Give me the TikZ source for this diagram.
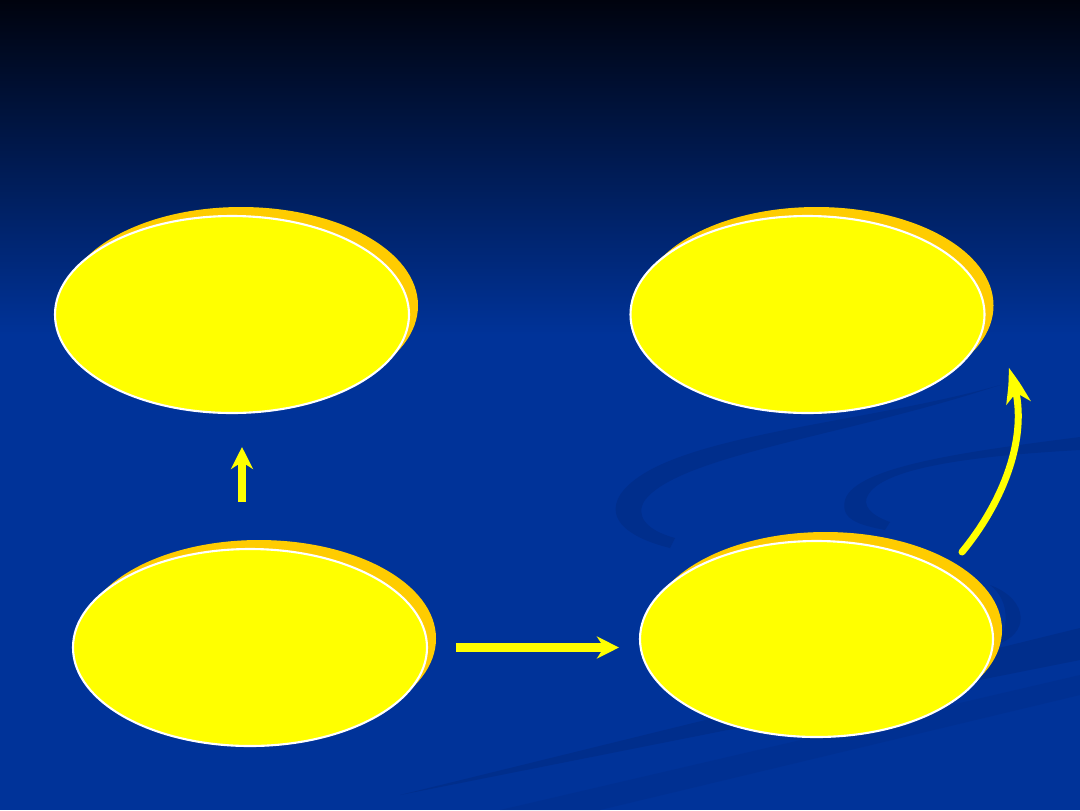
\documentclass[tikz,border=0pt]{standalone}
\usetikzlibrary{shapes.geometric,shadows,arrows.meta,bending}

\definecolor{bgblue}{HTML}{003399}
\definecolor{bgtop}{HTML}{00030E}
\definecolor{swirl}{HTML}{002E8C}
\definecolor{bubbleyellow}{HTML}{FFFF00}
\definecolor{shadoworange}{HTML}{FFCC00}

\begin{document}
\begin{tikzpicture}[
    bubble/.style={ellipse, draw=white, line width=0.6pt, fill=bubbleyellow, inner sep=0pt,
      minimum width=3.54cm, minimum height=1.97cm,
      drop shadow={shadow xshift=0.09cm, shadow yshift=0.09cm, fill=shadoworange, opacity=1}},
    flow/.style={draw=bubbleyellow, line width=0.08cm,
      -{Stealth[length=0.22cm, width=0.22cm, inset=0.07cm, fill=bubbleyellow]}}
  ]
      % background
      \useasboundingbox (0,0) rectangle (10.8,8.1);
      \fill[bgblue] (0,0) rectangle (10.8,8.1);
      \shade[top color=bgtop, bottom color=bgblue] (0,4.75) rectangle (10.8,8.1);

      % swirls
      \fill[swirl] (10.0,4.25) .. controls (8.6,3.85) and (6.6,3.75) .. (6.2,3.15)
        .. controls (6.05,2.9) and (6.3,2.72) .. (6.7,2.62) -- (6.75,2.72)
        .. controls (6.45,2.8) and (6.35,2.95) .. (6.45,3.1)
        .. controls (6.8,3.55) and (8.5,3.75) .. (10.0,4.25) -- cycle;
      \fill[swirl] (10.8,3.73) .. controls (9.8,3.6) and (8.55,3.45) .. (8.45,3.1)
        .. controls (8.4,2.9) and (8.6,2.85) .. (8.85,2.8) -- (8.9,2.88)
        .. controls (8.7,2.95) and (8.62,3.05) .. (8.68,3.15)
        .. controls (8.85,3.45) and (9.9,3.55) .. (10.8,3.6) -- cycle;
      \fill[swirl] (9.9,2.25) .. controls (10.3,2.1) and (10.3,1.75) .. (9.95,1.65)
        .. controls (10.1,1.8) and (10.1,2.1) .. (9.9,2.25) -- cycle;
      \fill[swirl] (4.0,0.15) -- (10.8,1.82) -- (10.8,1.5) -- cycle;
      \fill[swirl, opacity=0.5] (5.0,0) -- (10.8,1.35) -- (10.8,1.15) -- (6.0,0) -- cycle;

      % bubbles
      \draw (2.32,4.955) node[bubble] (upper) {};
      \draw (8.075,4.955) node[bubble] (final) {};
      \draw (2.50,1.625) node[bubble] (origin) {};
      \draw (8.165,1.71) node[bubble, minimum width=3.53cm, minimum height=1.96cm] (middle) {};

      % arrows
      \coordinate (uptail) at (2.42,3.08);
      \coordinate (uphead) at (2.42,3.63);
      \coordinate (bendtail) at (9.62,2.58);
      \coordinate (bendhead) at (10.08,4.42);

      \draw [flow] (uptail) -- (uphead);
      \draw [flow, line width=0.09cm, shorten <=0.28cm, shorten >=0.2cm] (origin) -- (origin -| middle.west);
      \draw [flow, line width=0.07cm, line cap=round,
        -{Stealth[length=0.36cm, width=0.24cm, inset=0.1cm, fill=bubbleyellow, bend]}]
        (bendtail) .. controls (10.05,3.1) and (10.35,3.85) .. (bendhead);
    \end{tikzpicture}
\end{document}
